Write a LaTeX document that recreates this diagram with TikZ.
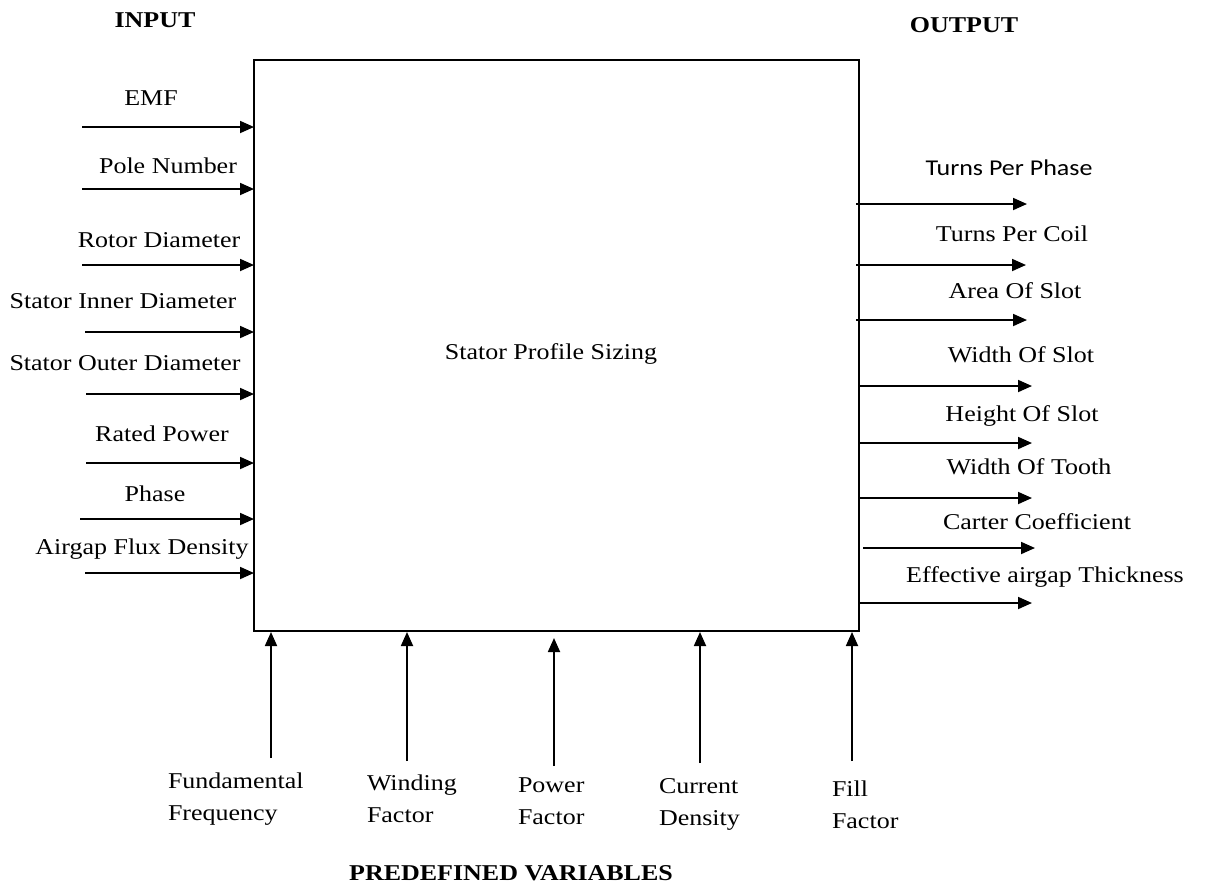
\documentclass[tikz,border=0pt]{standalone}
\usepackage{fontspec}
\setmainfont{Liberation Serif}[FakeStretch=1.15]
\newfontfamily\calfont{Carlito}[FakeStretch=1.15]
\usetikzlibrary{arrows.meta}
\begin{document}
\begin{tikzpicture}[x=1pt,y=-1pt,
  every node/.style={inner sep=0pt,outer sep=0pt},
  lbl/.style={anchor=base,font=\fontsize{22.6}{27}\selectfont},
  lbll/.style={anchor=base west,font=\fontsize{22.6}{27}\selectfont},
  head/.style={anchor=base,font=\fontsize{22.6}{27}\selectfont\bfseries},
  arr/.style={draw=black,line width=1.8pt,-{Triangle[length=14pt,width=12pt]}},
  block/.style={draw=black,line width=1.8pt,minimum width=605pt,minimum height=571pt}]
\useasboundingbox (0,0) rectangle (1210,887);

% central block
\node[block] (box) at (556.5,345.5) {};
\node[lbl] (title) at (551,359) {Stator Profile Sizing};

% headings
\node[head] (hin) at (155,27) {INPUT};
\node[head] (hout) at (964,32) {OUTPUT};
\node[head] (hpre) at (511,880) {PREDEFINED VARIABLES};

% inputs: label x, label baseline, arrow y, arrow start x
\foreach \n/\t/\lx/\ly/\ay/\sx in {
  1/EMF/151/105/127/82,
  2/Pole Number/168/173/189/82,
  3/Rotor Diameter/159/247/265/82,
  4/Stator Inner Diameter/123/308/332/85,
  5/Stator Outer Diameter/125/370/394/86,
  6/Rated Power/162/441/463/86,
  7/Phase/155/501/519/80,
  8/Airgap Flux Density/142/554/573/85}{
  \node[lbl] (inl\n) at (\lx,\ly) {\t};
  \coordinate (ins\n) at (\sx,\ay);
  \draw[arr] (ins\n) -- (ins\n -| box.west);
}

% outputs: label x, label baseline, arrow y, arrow end x
\node[lbl,font=\fontsize{22.6}{27}\calfont] (outl1) at (1009,175) {Turns Per Phase};
\foreach \n/\t/\lx/\ly in {
  2/Turns Per Coil/1012/241,
  3/Area Of Slot/1015/298,
  4/Width Of Slot/1021/362,
  5/Height Of Slot/1022/421,
  6/Width Of Tooth/1029/474,
  7/Carter Coefficient/1037/529,
  8/Effective airgap Thickness/1045/582}{
  \node[lbl] (outl\n) at (\lx,\ly) {\t};
}
\foreach \n/\ay/\sx/\ex in {
  1/204/856/1027, 2/265/856/1026, 3/320/856/1027, 4/386/860/1032,
  5/443/860/1032, 6/498/860/1032, 7/548/863/1035, 8/603/860/1032}{
  \coordinate (outs\n) at (\sx,\ay);
  \coordinate (oute\n) at (\ex,\ay);
  \draw[arr] (outs\n) -- (oute\n);
}

% predefined variables from below
\foreach \n/\ax/\ay/\tx/\lx/\la/\lb/\lbb in {
  1/271/758/632/168/Fundamental/Frequency/0,
  2/407/761/632/367/Winding/Factor/2,
  3/554/766/638/518/Power/Factor/4,
  4/700/763/632/659/Current/Density/5,
  5/852/761/632/832/Fill/Factor/8}{
  \coordinate (pb\n) at (\ax,\ay);
  \coordinate (pt\n) at (\ax,\tx);
  \draw[arr] (pb\n) -- (pt\n);
  \node[lbll] (pa\n) at (\lx,788+\lbb) {\la};
  \node[lbll] (pc\n) at (\lx,820+\lbb) {\lb};
}
\end{tikzpicture}
\end{document}
